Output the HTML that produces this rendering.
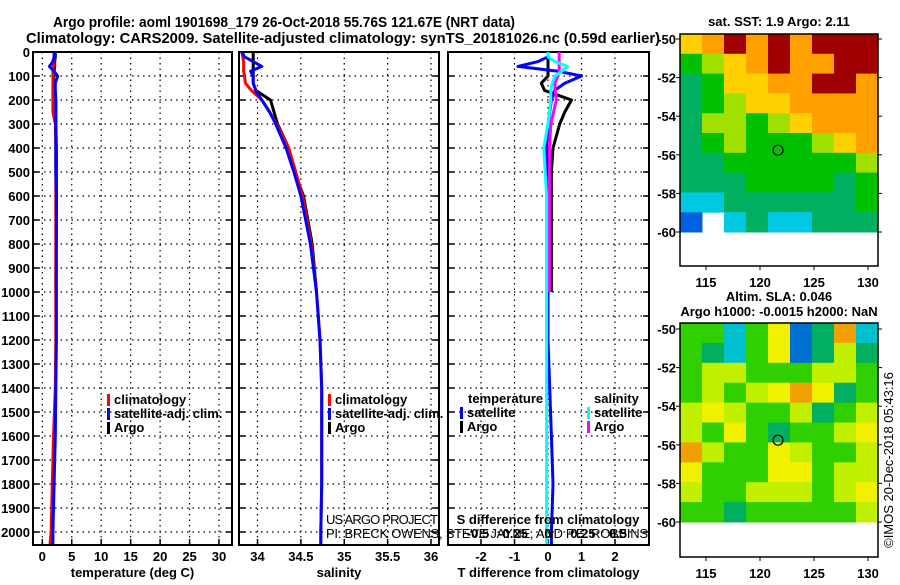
<!DOCTYPE html>
<html><head><meta charset="utf-8">
<style>
body{margin:0;background:#fff;}
svg text{font-family:"Liberation Sans",sans-serif;}
.b{font-weight:bold;}
</style></head>
<body>
<svg id="s" width="900" height="580" viewBox="0 0 900 580" xmlns="http://www.w3.org/2000/svg">
<text class="b" x="53" y="27" font-size="15" textLength="462" lengthAdjust="spacingAndGlyphs">Argo profile: aoml 1901698_179 26-Oct-2018 55.76S 121.67E (NRT data)</text>
<text class="b" x="26" y="43" font-size="15" textLength="634" lengthAdjust="spacingAndGlyphs">Climatology: CARS2009. Satellite-adjusted climatology: synTS_20181026.nc (0.59d earlier)</text>
</svg>
<script>
// ---- data ----
const depth=[0,20,40,60,80,100,130,160,200,250,300,400,500,600,800,1000,1200,1400,1600,1800,2000,2050];
const depthTicks=[0,100,200,300,400,500,600,700,800,900,1000,1100,1200,1300,1400,1500,1600,1700,1800,1900,2000];
const tempArgo=[2.2,2.2,2.1,2.1,2.0,1.9,1.9,1.9,2.3,2.3,2.3,2.4,2.4,2.4,2.35,2.3];
const tempClim=[2.0,2.0,2.0,1.9,1.8,1.8,1.8,1.8,1.8,1.8,2.2,2.3,2.3,2.3,2.3,2.3,2.3,2.2,1.9,1.7,1.5,1.3];
const tempSat=[2.0,2.0,1.8,1.2,2.0,2.6,2.2,2.2,2.3,2.3,2.3,2.3,2.3,2.4,2.4,2.4,2.4,2.3,2.2,2.0,1.8,1.8];
const salArgo=[33.95,33.95,33.95,33.95,33.95,33.95,33.95,33.98,34.15,34.19,34.23,34.36,34.43,34.53,34.63,34.68];
const salClim=[33.82,33.83,33.84,33.84,33.84,33.85,33.86,33.93,34.05,34.14,34.22,34.36,34.44,34.52,34.62,34.68,34.72,34.74,34.74,34.74,34.73,34.73];
const salSat=[33.82,33.85,33.95,34.05,33.92,33.95,33.95,33.98,34.05,34.14,34.21,34.33,34.42,34.50,34.61,34.68,34.72,34.74,34.74,34.74,34.73,34.73];
const tdiffSat=[0,0,-0.3,-0.9,0.3,1.0,0.5,0.2,0.1,0.05,0.0,-0.05,0,0,0,0,0,0.05,0.1,0.15,0.1,0.1];
const tdiffArgo=[0,0,0,0,0,0,-0.2,-0.1,0.7,0.5,0.35,0.15,0.1,0.1,0.1,0.1];
const sdiffSat=[0,0,0.05,0.14,0.1,0.05,0.03,0.02,0.02,0.01,0,-0.03,-0.02,-0.01,-0.01,-0.01,-0.01,-0.01,-0.01,-0.01,-0.01,-0.01];
const sdiffArgo=[0.08,0.08,0.08,0.08,0.08,0.07,0.05,0.05,0.06,0.04,0.02,0.01,0.01,0.01,0.01,0.01];
const tempTicks=[0,5,10,15,20,25,30];
const salTicks=[34,34.5,35,35.5,36];
const salTickLabels=['34','34.5','35','35.5','36'];
const tdTicks=[-2,-1,0,1,2];
const sdTicks=[-0.5,-0.25,0,0.25,0.5];
const latTicks=[-50,-52,-54,-56,-58,-60];
const lonTicks=[115,120,125,130];
const sstGrid=[
[5,6,7,6,7,6,7,7,7],
[3,4,5,6,7,6,6,7,7],
[2,3,5,5,6,6,7,7,6],
[2,3,4,5,5,6,6,6,6],
[2,4,4,3,4,5,6,6,6],
[2,3,4,3,3,3,4,5,6],
[2,2,3,3,3,3,3,3,4],
[2,2,2,3,3,3,3,2,3],
[1,1,2,2,2,2,2,2,3],
[0,-1,1,2,1,1,2,2,2]];
const slaGrid=[
[3,3,1,3,5,0,2,6,1],
[3,2,1,3,5,0,2,4,2],
[3,4,4,3,3,3,4,4,3],
[3,4,3,4,5,6,5,2,3],
[4,5,4,3,3,4,2,3,4],
[4,3,5,3,2,3,3,4,5],
[6,4,3,3,5,4,3,3,4],
[5,3,3,3,5,5,3,4,4],
[4,3,3,4,4,4,3,4,5],
[3,3,2,3,3,3,3,3,4]];
const sstColors=['#0060e0','#00c8e0','#00b060','#00c000','#a0e000','#ffd000','#ffa000','#a00000'];
const slaColors=['#0070d0','#00c0d0','#00b060','#30d000','#c0f000','#f0f000','#f0a000'];

const S=document.getElementById('s');
const NS='http://www.w3.org/2000/svg';
function mk(tag,attrs,parent){const e=document.createElementNS(NS,tag);for(const k in attrs)e.setAttribute(k,attrs[k]);(parent||S).appendChild(e);return e;}
function txt(str,x,y,size,anchor,bold,parent){const t=mk('text',{x:x,y:y,'font-size':size,'text-anchor':anchor||'start'},parent);if(bold)t.setAttribute('font-weight','bold');t.textContent=str;return t;}

const Y0=52,Y1=545;
const yD=d=>Y0+d*0.24;
function axis(lin,x0,x1){return v=>x0+(v-lin[0])*(x1-x0)/(lin[1]-lin[0]);}

function panel(name,L,R,xf,ticks,labels,title,showY){
  const g=mk('g',{});
  
  
  depthTicks.forEach(d=>{
    const l=mk('line',{x1:L,x2:R,y1:yD(d),y2:yD(d),stroke:'#000','stroke-width':1.2,'stroke-dasharray':'1.5,4'},g);
    
    
    mk('line',{x1:L,x2:L+6,y1:yD(d),y2:yD(d),stroke:'#000','stroke-width':1.5},g);
    mk('line',{x1:R-6,x2:R,y1:yD(d),y2:yD(d),stroke:'#000','stroke-width':1.5},g);
    if(showY){const t=txt(String(d),30,yD(d)+5,13,'end',true,g);
      
      }
  });
  ticks.forEach((v,i)=>{
    const x=xf(v);
    if(x>L+2&&x<R-2){const l=mk('line',{x1:x,x2:x,y1:Y0,y2:Y1,stroke:'#000','stroke-width':1.2,'stroke-dasharray':'1.5,4'},g);
      
      }
    mk('line',{x1:x,x2:x,y1:Y1-6,y2:Y1,stroke:'#000','stroke-width':1.5},g);
    const t=txt(labels[i],x,561,13,'middle',true,g);
    
    
  });
  const r=mk('rect',{x:L,y:Y0,width:R-L,height:Y1-Y0,fill:'none',stroke:'#000','stroke-width':2},g);
  
  
  const t=txt(title,(L+R)/2,577,13,'middle',true,g);
  
  
  return g;
}
function line(g,xf,vals,color,name){
  const pts=vals.map((v,i)=>xf(v).toFixed(1)+','+yD(depth[i]).toFixed(1)).join(' ');
  const p=mk('polyline',{points:pts,fill:'none',stroke:color,'stroke-width':3,'stroke-linejoin':'round'},g);
  
  
}
function legend(g,x,y,items){
  items.forEach((it,i)=>{
    mk('rect',{x:x,y:y+i*14-10,width:3,height:12,fill:it[1]},g);
    const t=txt(it[0],x+7,y+i*14,13,'start',true,g);
    
    
  });
}
const xT=axis([0,30],42.3,219);
const g1=panel('temperature-panel',33,232,xT,tempTicks,tempTicks.map(String),'temperature (deg C)',true);
line(g1,xT,tempArgo,'#000','temp-argo-line');
line(g1,xT,tempClim,'#f00','temp-climatology-line');
line(g1,xT,tempSat,'#00f','temp-satellite-line');
legend(g1,107,404,[['climatology','#f00'],['satellite-adj. clim.','#00f'],['Argo','#000']]);
const xS=axis([34,36],257.5,431);
const g2=panel('salinity-panel',239,439,xS,salTicks,salTickLabels,'salinity',false);
line(g2,xS,salArgo,'#000','sal-argo-line');
line(g2,xS,salClim,'#f00','sal-climatology-line');
line(g2,xS,salSat,'#00f','sal-satellite-line');
legend(g2,328,404,[['climatology','#f00'],['satellite-adj. clim.','#00f'],['Argo','#000']]);
const xTD=axis([0,1],548,581.5);
const xSD=axis([0,1],548,688);
const g3=panel('difference-panel',448,649,xTD,tdTicks,tdTicks.map(String),'T difference from climatology',false);
line(g3,xTD,tdiffArgo,'#000','tdiff-argo-line');
line(g3,xTD,tdiffSat,'#00f','tdiff-satellite-line');
line(g3,xSD,sdiffArgo,'#f0f','sdiff-argo-line');
line(g3,xSD,sdiffSat,'#0ff','sdiff-satellite-line');
let t;
t=txt('temperature',468,403,13,'start',true,g3);
t=txt('salinity',594,403,13,'start',true,g3);
legend(g3,460,417,[['satellite','#00f'],['Argo','#000']]);
legend(g3,587,417,[['satellite','#0ff'],['Argo','#f0f']]);
t=txt('S difference from climatology',548,524,13,'middle',true,g3);
sdTicks.forEach(v=>{const e=txt(String(v),xSD(v),538,13,'middle',true,g3);
  
  });
t=txt('US ARGO PROJECT',326,524,13,'start',false);
t.setAttribute('textLength','112');
t=txt('PI: BRECK OWENS, STEVE JAYNE, AND P.E. ROBBINS',326,538,13,'start',false);
t.setAttribute('textLength','322');

function map(name,T,B,lat50,lat60,grid,colors,titles){
  const L=680,R=878;
  const g=mk('g',{});
  
  
  const xl=axis([115,130],706,868);
  const yl=axis([-50,-60],lat50,lat60);
  const top=T, bot=yl(-60);
  const rows=grid.length, cols=grid[0].length;
  const cw=(R-L)/cols, ch=(bot-top)/rows;
  grid.forEach((row,ri)=>row.forEach((v,ci)=>{
    if(v<0)return;
    const c=mk('rect',{x:L+ci*cw,y:top+ri*ch,width:cw+0.5,height:ch+0.5,fill:colors[v]},g);
    
    
  }));
  mk('rect',{x:L,y:T,width:R-L,height:B-T,fill:'none',stroke:'#000','stroke-width':1.5},g);
  latTicks.forEach(v=>{const y=yl(v);
    mk('line',{x1:L-4,x2:L,y1:y,y2:y,stroke:'#000'},g);
    mk('line',{x1:R,x2:R+4,y1:y,y2:y,stroke:'#000'},g);
    const e=txt(String(v),676,y+5,13,'end',true,g);
    
    });
  lonTicks.forEach(v=>{const x=xl(v);
    mk('line',{x1:x,x2:x,y1:B,y2:B+4,stroke:'#000'},g);
    const e=txt(String(v),x,B+21,13,'middle',true,g);
    
    });
  const c=mk('circle',{cx:xl(121.67),cy:yl(-55.76),r:5,fill:'none',stroke:'#000','stroke-width':1.2},g);
  
  
  titles.forEach((s,i)=>{const e=txt(s[0],779,s[1],13,'middle',true,g);
    
    });
}
map('sst-map',34,266,39,232,sstGrid,sstColors,[['sat. SST: 1.9 Argo: 2.11',26]]);
map('sla-map',323,557,329,522,slaGrid,slaColors,[['Altim. SLA: 0.046',301],['Argo h1000: -0.0015 h2000: NaN',316]]);
t=txt('©IMOS 20-Dec-2018 05:43:16',0,0,13,'middle',false);
t.setAttribute('transform','translate(893,460) rotate(-90)');


</script>
</body></html>
